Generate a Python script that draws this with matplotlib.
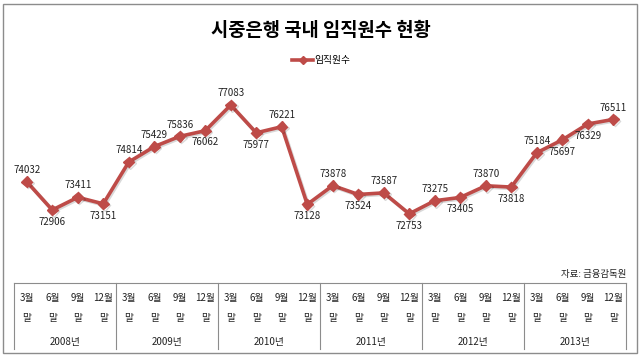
import matplotlib
matplotlib.use("Agg")
import matplotlib.pyplot as plt
import matplotlib.patheffects as pe
from matplotlib.lines import Line2D
from matplotlib.patches import Rectangle

plt.rcParams['font.family'] = ['Noto Sans CJK KR', 'DejaVu Sans']

title = "시중은행 국내 임직원수 현황"
series_name = "임직원수"
source = "자료: 금융감독원"
years = ["2008년", "2009년", "2010년", "2011년", "2012년", "2013년"]
quarters = ["3월", "6월", "9월", "12월"]
values = [74032, 72906, 73411, 73151,
          74814, 75429, 75836, 76062,
          77083, 75977, 76221, 73128,
          73878, 73524, 73587, 72753,
          73275, 73405, 73870, 73818,
          75184, 75697, 76329, 76511]
# label above (1) or below (-1) the point
label_side = [1, -1, 1, -1,
              1, 1, 1, -1,
              1, -1, 1, -1,
              1, -1, 1, -1,
              1, -1, 1, -1,
              1, -1, -1, 1]

W, H = 640, 356
red = "#BE4B48"
grey = "#8C8C8C"


def fx(px):
    return px / W


def fy(py):
    return 1 - py / H


fig = plt.figure(figsize=(6.4, 3.56), dpi=100)
fig.patches.append(Rectangle((fx(3), fy(353)), fx(634), 349 / H, transform=fig.transFigure,
                             fill=False, edgecolor=grey, linewidth=1.0))

ax = fig.add_axes([fx(14), fy(283), fx(612), 201 / H])
x = list(range(len(values)))
shadow = [pe.SimpleLineShadow(offset=(1, -1), alpha=0.15, shadow_color="black"), pe.Normal()]
ax.plot(x, values, color=red, linewidth=2.6, marker="D", markersize=5.5,
        path_effects=shadow, label=series_name, solid_joinstyle="miter")
for xi, v, s in zip(x, values, label_side):
    ax.annotate(str(v), (xi, v), xytext=(0, 8.5 * s), textcoords="offset points",
                ha="center", va="center", fontsize=7, color="#222222")
ax.set_xlim(-0.5, len(values) - 0.5)
ax.set_ylim(70000, 78000)
ax.axis("off")

fig.text(fx(321), fy(30), title, ha="center", va="center", fontsize=13.5, fontweight="bold")
handle = Line2D([], [], color=red, linewidth=2.6, marker="D", markersize=4)
fig.legend([handle], [series_name], loc="center", bbox_to_anchor=(fx(321), fy(60)),
           frameon=False, fontsize=7, handlelength=2.2, handletextpad=0.1)

fig.text(fx(626), fy(275), source, ha="right", va="center", fontsize=6.8, color="#222222")

# category box below the plot
fig.add_artist(Line2D([fx(14), fx(626)], [fy(283), fy(283)], transform=fig.transFigure,
                      color=grey, linewidth=0.8))
n_years = len(years)
group_w = 612 / n_years
for i in range(n_years + 1):
    xp = 14 + i * group_w
    fig.add_artist(Line2D([fx(xp), fx(xp)], [fy(283), fy(349)], transform=fig.transFigure,
                          color=grey, linewidth=0.8))
for i, yr in enumerate(years):
    fig.text(fx(14 + (i + 0.5) * group_w), fy(342), yr, ha="center", va="center",
             fontsize=7, color="#222222")
    for j, q in enumerate(quarters):
        cx = 14 + i * group_w + (j + 0.5) * group_w / len(quarters)
        fig.text(fx(cx), fy(298), q, ha="center", va="center", fontsize=7, color="#222222")
        fig.text(fx(cx), fy(318), "말", ha="center", va="center", fontsize=7, color="#222222")

fig.savefig("out.png", dpi=100)
